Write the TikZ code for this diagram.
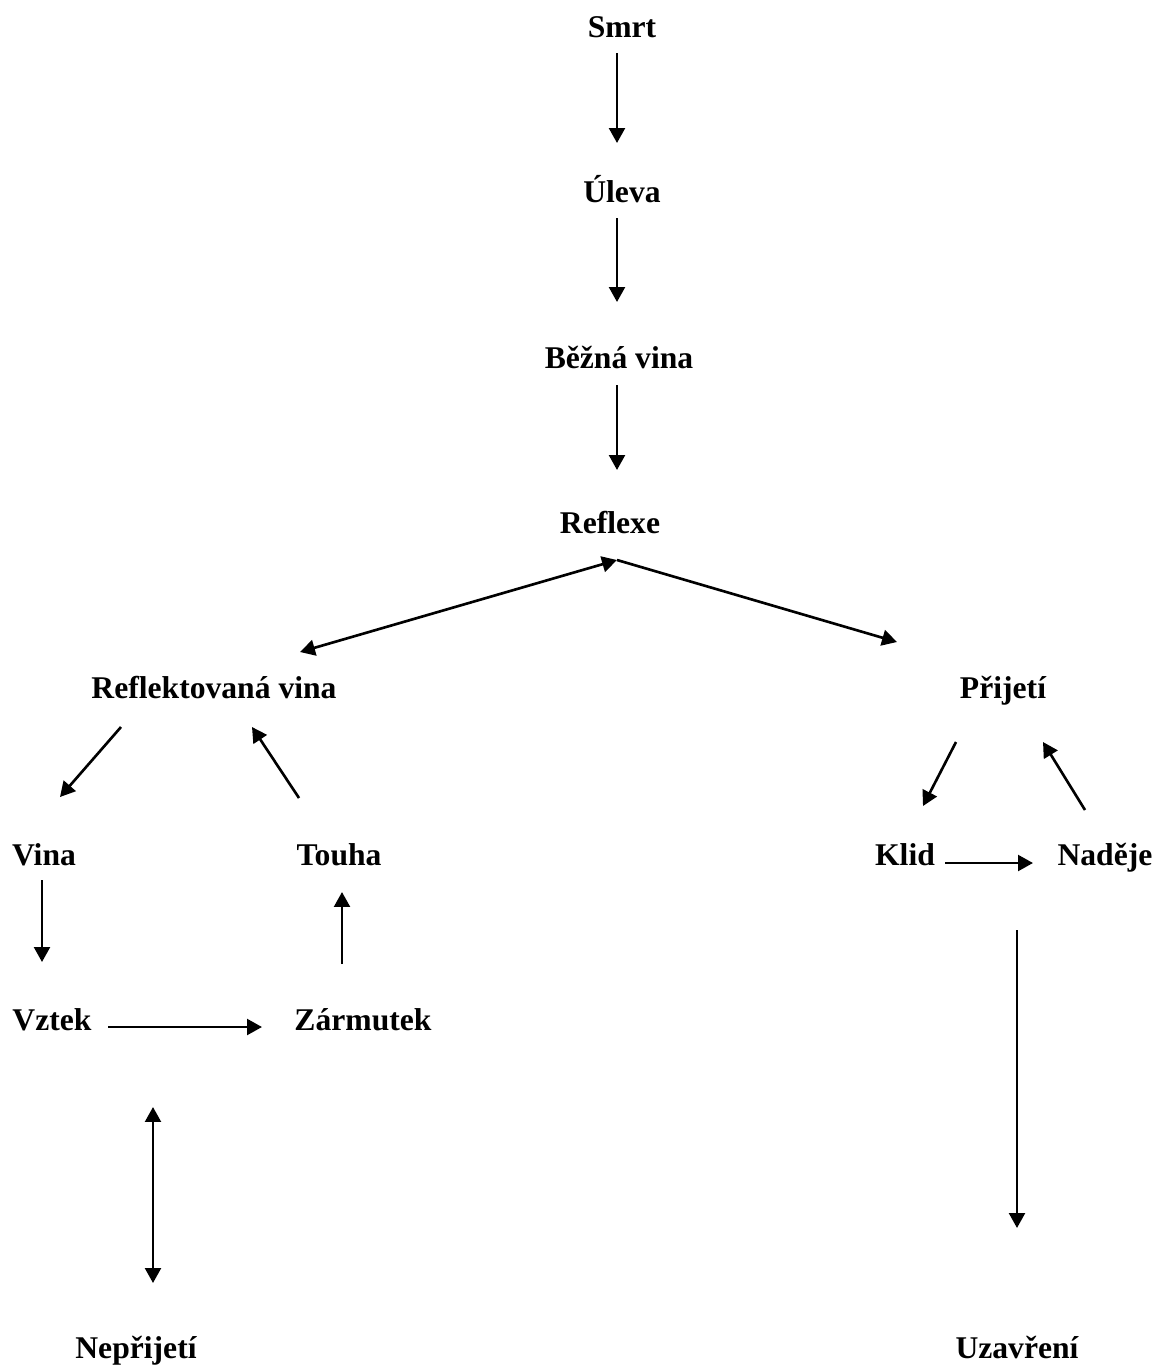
\documentclass[tikz,border=0pt]{standalone}
\usepackage{fontspec}
\setmainfont{Liberation Serif}
\usetikzlibrary{arrows.meta}

\tikzset{
  stage/.style={font=\bfseries\fontsize{18}{22}\selectfont, inner sep=0pt, anchor=base},
  link/.style={line width=1.5pt, -{Triangle[length=8.5pt,width=9pt]}},
  twolink/.style={line width=1.5pt, {Triangle[length=8.5pt,width=9pt]}-{Triangle[length=8.5pt,width=9pt]}}
}

\begin{document}
\begin{tikzpicture}[x=0.02cm, y=-0.02cm]
    \useasboundingbox (0,0) rectangle (1158,1370);
    % stages (placed by baseline)
    \node[stage] (smrt) at (622,37) {Smrt};
    \node[stage] (uleva) at (622,202) {Úleva};
    \node[stage] (bezna) at (619,368) {Běžná vina};
    \node[stage] (reflexe) at (610,533) {Reflexe};
    \node[stage] (refvina) at (214,698) {Reflektovaná vina};
    \node[stage] (prijeti) at (1003,698) {Přijetí};
    \node[stage] (vina) at (44,865) {Vina};
    \node[stage] (touha) at (339,865) {Touha};
    \node[stage] (klid) at (905,865) {Klid};
    \node[stage] (nadeje) at (1105,865) {Naděje};
    \node[stage] (vztek) at (52,1030) {Vztek};
    \node[stage] (zarmutek) at (363,1030) {Zármutek};
    \node[stage] (neprijeti) at (136,1358) {Nepřijetí};
    \node[stage] (uzavreni) at (1017,1358) {Uzavření};

    % arrow ends
    \coordinate (s1) at (617,53);   \coordinate (s2) at (617,143);
    \coordinate (u1) at (617,218);  \coordinate (u2) at (617,302);
    \coordinate (b1) at (617,385);  \coordinate (b2) at (617,470);
    \coordinate (r0) at (617,560);
    \coordinate (r1) at (300,652);  \coordinate (r2) at (897,642);
    \coordinate (rv1) at (121,727); \coordinate (rv2) at (60,797);
    \coordinate (t1) at (299,798);  \coordinate (t2) at (252,727);
    \coordinate (v1) at (42,880);   \coordinate (v2) at (42,962);
    \coordinate (z1) at (342,964);  \coordinate (z2) at (342,892);
    \coordinate (vz1) at (108,1027); \coordinate (vz2) at (262,1027);
    \coordinate (n1) at (153,1107); \coordinate (n2) at (153,1283);
    \coordinate (p1) at (956,742);  \coordinate (p2) at (923,806);
    \coordinate (nd1) at (1085,810); \coordinate (nd2) at (1043,742);
    \coordinate (k1) at (945,863);  \coordinate (k2) at (1033,863);
    \coordinate (c1) at (1017,930); \coordinate (c2) at (1017,1228);

    \draw[link] (s1) -- (s2);
    \draw[link] (u1) -- (u2);
    \draw[link] (b1) -- (b2);
    \draw[twolink] (r1) -- (r0);
    \draw[link] (r0) -- (r2);
    \draw[link] (rv1) -- (rv2);
    \draw[link] (t1) -- (t2);
    \draw[link] (v1) -- (v2);
    \draw[link] (z1) -- (z2);
    \draw[link] (vz1) -- (vz2);
    \draw[twolink] (n1) -- (n2);
    \draw[link] (p1) -- (p2);
    \draw[link] (nd1) -- (nd2);
    \draw[link] (k1) -- (k2);
    \draw[link] (c1) -- (c2);
\end{tikzpicture}
\end{document}
